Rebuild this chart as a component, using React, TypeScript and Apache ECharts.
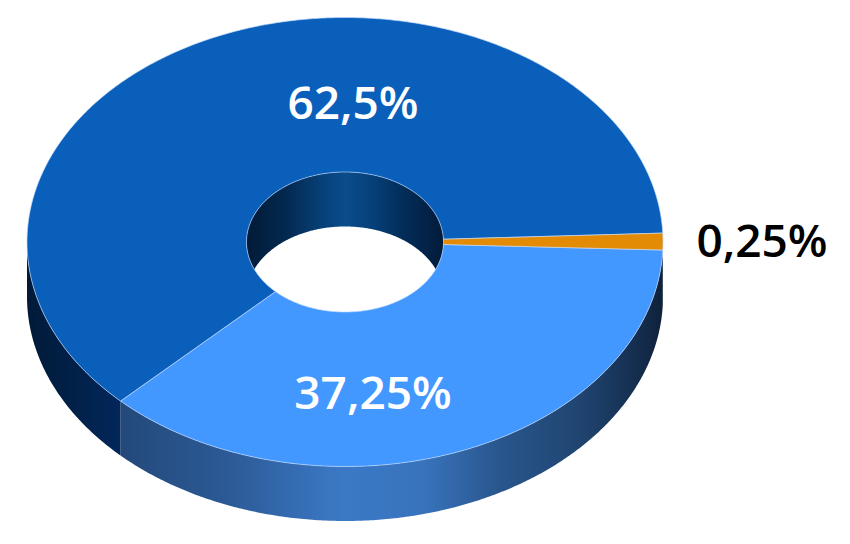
import React, { useEffect, useRef } from "react";
import * as echarts from "echarts";

// Printed labels, and the slice shares as actually drawn in the picture
// (the orange wedge is drawn wider than its printed 0,25 %).
const sliceNames = ["Light", "Dark", "Orange"];
const drawnShares = [36.9, 61.9, 1.2];
const sliceLabels = ["37,25%", "62,5%", "0,25%"];
const topColors = ["#4298FF", "#0A5FBB", "#E38B05"];

const CX = 345, CY = 242, RX = 318, RY = 224.5, HRX = 98.5, HRY = 70, DEPTH = 54.5;
const START_DEG = 2.05;
const labelPos = [
  { x: 373, y: 391, fill: "#ffffff", weight: 600 },
  { x: 353, y: 101, fill: "#ffffff", weight: 600 },
  { x: 762, y: 239, fill: "#000000", weight: 600 },
];

const rad = (d: number) => (d * Math.PI) / 180;
const pt = (rx: number, ry: number, deg: number, dy = 0) => [
  CX + rx * Math.cos(rad(deg)),
  CY + dy + ry * Math.sin(rad(deg)),
];
const arc = (rx: number, ry: number, a: number, b: number, dy = 0) => {
  const n = Math.max(2, Math.ceil(Math.abs(b - a) * 2));
  const out: number[][] = [];
  for (let i = 0; i <= n; i++) out.push(pt(rx, ry, a + ((b - a) * i) / n, dy));
  return out;
};
const grad = (x0: number, x1: number, stops: [number, string][]) =>
  new echarts.graphic.LinearGradient(
    x0, 0, x1, 0,
    stops.map(([offset, color]) => ({ offset, color })),
    true
  );

const wallFills = [
  () =>
    grad(120, 663, [
      [0, "#23497A"],
      [0.2, "#2C5A96"],
      [0.41, "#3B79C6"],
      [0.56, "#3873BC"],
      [0.7, "#29568C"],
      [0.85, "#1F4470"],
      [0.96, "#142C4C"],
      [1, "#0E2139"],
    ]),
  () =>
    grad(27, 120, [
      [0, "#011A38"],
      [1, "#02275A"],
    ]),
  () => "#0E2139",
];

const shareTotal = drawnShares.reduce((a, b) => a + b, 0);

function renderSlice(params: any, api: any) {
  const i = params.dataIndex;
  const before = drawnShares.slice(0, i).reduce((a, b) => a + b, 0);
  const a0 = START_DEG + (before / shareTotal) * 360;
  const a1 = a0 + (api.value(0) / shareTotal) * 360;
  const children: any[] = [];

  // outer wall: the part of the slice that faces the viewer
  const ranges = [[Math.max(a0, 0), Math.min(a1, 180)]];
  ranges.forEach(([w0, w1]) => {
    if (w1 > w0) {
      children.push({
        type: "polygon",
        shape: { points: [...arc(RX, RY, w0, w1), ...arc(RX, RY, w1, w0, DEPTH)] },
        style: { fill: wallFills[i](), stroke: null },
        silent: true,
      });
    }
  });

  // top face
  children.push({
    type: "polygon",
    shape: { points: [...arc(RX, RY, a0, a1), ...arc(HRX, HRY, a1, a0)] },
    style: { fill: topColors[i], stroke: "rgba(195,220,255,0.65)", lineWidth: 1 },
    silent: true,
  });

  // label
  const p = labelPos[i];
  children.push({
    type: "text",
    z2: 10,
    x: p.x,
    y: p.y,
    style: {
      text: sliceLabels[i],
      fill: p.fill,
      fontFamily: "'Open Sans', sans-serif",
      fontSize: 46,
      fontWeight: p.weight,
      align: "center",
      verticalAlign: "middle",
    },
    silent: true,
  });

  return { type: "group", children };
}

function renderHoleWall() {
  const s = (Math.asin(DEPTH / 2 / HRY) * 180) / Math.PI;
  return {
    type: "polygon",
    shape: {
      points: [...arc(HRX, HRY, s, -180 - s), ...arc(HRX, HRY, 180 + s, 360 - s, DEPTH)],
    },
    style: {
      fill: grad(CX - HRX, CX + HRX, [
        [0, "#021A38"],
        [0.2, "#03294F"],
        [0.38, "#074078"],
        [0.5, "#0A4C8C"],
        [0.62, "#07427C"],
        [0.8, "#032C58"],
        [1, "#021B3A"],
      ]),
      stroke: null,
    },
    silent: true,
  };
}

export default function App() {
  const ref = useRef<HTMLDivElement>(null);
  useEffect(() => {
    const chart = echarts.init(ref.current!, null, { renderer: "svg" });
    chart.setOption({
      animation: false,
      backgroundColor: "#ffffff",
      series: [
        {
          type: "custom",
          coordinateSystem: "none",
          silent: true,
          renderItem: () => renderHoleWall(),
          data: [[1]],
        },
        {
          type: "custom",
          name: "Shares",
          coordinateSystem: "none",
          silent: true,
          renderItem: renderSlice,
          data: drawnShares.map((v, i) => ({ name: sliceNames[i], value: [v] })),
        },
      ],
    });
    return () => chart.dispose();
  }, []);
  return (
    <div
      ref={ref}
      style={{ position: "absolute", left: 0, top: 0, width: 850, height: 544 }}
    />
  );
}
